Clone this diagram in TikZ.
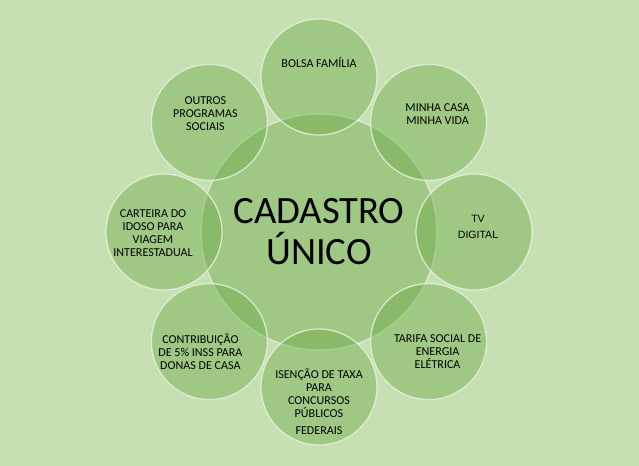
\documentclass[tikz,border=0pt]{standalone}
\usepackage{fontspec}
\setmainfont{Carlito}
\newfontfamily\tvfont{Liberation Sans}
\usepackage{xcolor}
\definecolor{fundo}{HTML}{C6E0B4}
\definecolor{verdebola}{HTML}{6FAA48}
\definecolor{bordaclara}{HTML}{E4F2DA}
\usetikzlibrary{positioning}

\begin{document}
\begin{tikzpicture}[central/.style = {circle, fill=verdebola, fill opacity=0.44, draw=bordaclara, draw opacity=0.85, line width=1.1pt, minimum size=7.08cm, inner sep=0pt}, satelite/.style = {circle, fill=verdebola, fill opacity=0.44, draw=bordaclara, draw opacity=0.85, line width=1.1pt, minimum size=3.48cm, inner sep=0pt}, rotulo/.style = {align=center, text=black, font=\fontsize{10.3}{11}\selectfont, inner sep=0pt}]

% fundo e limites da figura
\fill[fundo] (-9.57,-7.02) rectangle (9.6,6.96);
\useasboundingbox (-9.57,-7.02) rectangle (9.6,6.96);

\node[central] (cad) at (0,0) {};

\node[satelite] (bolsa) at (90:4.65) {};
\node[satelite] (minha) at (45:4.65) {};
\node[satelite] (tv) at (0:4.65) {};
\node[satelite] (tarifa) at (-45:4.65) {};
\node[satelite] (isencao) at (-90:4.65) {};
\node[satelite] (contrib) at (-135:4.65) {};
\node[satelite] (carteira) at (180:4.65) {};
\node[satelite] (outros) at (135:4.65) {};

% textos
\node[align=center, font=\fontsize{33}{35}\selectfont, inner sep=0pt] (cadT) at (cad) {CADASTRO\\ÚNICO};

\node[rotulo] (bolsaT) at ([yshift=0.42cm]bolsa.center) {BOLSA FAMÍLIA};
\node[rotulo] (minhaT) at ([xshift=0.27cm,yshift=0.24cm]minha.center) {MINHA CASA\\MINHA VIDA};
\node[rotulo, font=\tvfont\fontsize{9}{13.3}\selectfont] (tvT) at ([xshift=0.12cm,yshift=0.15cm]tv.center) {TV\\DIGITAL};
\node[rotulo] (tarifaT) at ([xshift=0.27cm,yshift=-0.3cm]tarifa.center) {TARIFA SOCIAL DE\\ENERGIA\\ELÉTRICA};
\node[rotulo] (isencaoT) at ([yshift=-0.45cm]isencao.center) {ISENÇÃO DE TAXA\\PARA\\CONCURSOS\\PÚBLICOS\\[4pt]FEDERAIS};
\node[rotulo] (contribT) at ([xshift=-0.27cm,yshift=-0.3cm]contrib.center) {CONTRIBUIÇÃO\\DE 5\% INSS PARA\\DONAS DE CASA};
\node[rotulo] (carteiraT) at ([xshift=-0.33cm,yshift=-0.03cm]carteira.center) {CARTEIRA DO\\IDOSO PARA\\VIAGEM\\INTERESTADUAL};
\node[rotulo] (outrosT) at ([xshift=-0.12cm,yshift=0.27cm]outros.center) {OUTROS\\PROGRAMAS\\SOCIAIS};
\end{tikzpicture}
\end{document}
